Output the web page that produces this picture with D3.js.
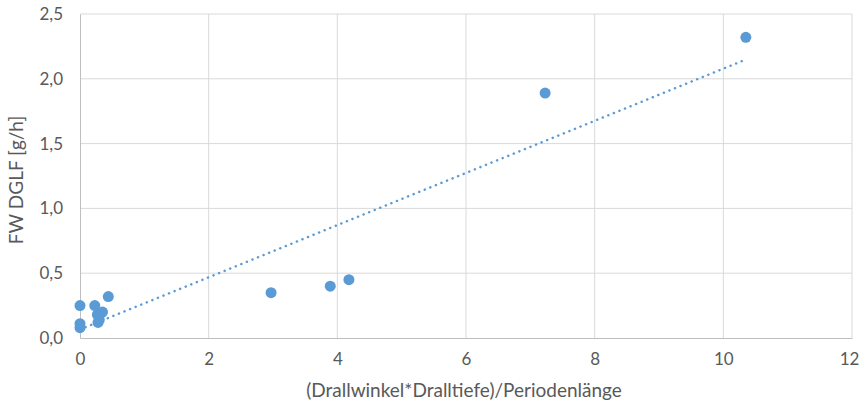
<!DOCTYPE html>
<html>
<head>
<meta charset="utf-8">
<script src="https://cdn.jsdelivr.net/npm/d3@7"></script>
<style>
  body { margin: 0; background: #fff; overflow: hidden; }
  svg { font-family: Lato, "Open Sans", sans-serif; display: block; }
  .axis-title { fill: #595959; font-size: 19px; }
</style>
</head>
<body>
<svg id="chart" width="861" height="403"></svg>
<script>
// measured values
const xValues = [0, 0, 0, 0.23, 0.44, 0.27, 0.35, 0.30, 0.28, 2.97, 3.89, 4.18, 7.23, 10.35];
const yValues = [0.25, 0.11, 0.08, 0.25, 0.32, 0.18, 0.20, 0.14, 0.12, 0.35, 0.40, 0.45, 1.89, 2.32];
const xTicks = [0, 2, 4, 6, 8, 10, 12];
const yTicks = [0, 0.5, 1.0, 1.5, 2.0, 2.5];

function drawChart() {
    const svg = d3.select("#chart");
    const plotLeft = 80, plotRight = 852, plotTop = 14, plotBottom = 338;
    const color = "#5B9BD5";

    const xScale = d3.scaleLinear().domain([0, 12]).range([plotLeft, plotRight]);
    const yScale = d3.scaleLinear().domain([0, 2.5]).range([plotBottom, plotTop]);
    const fmt = function (d) { return d3.format(".1f")(d).replace(".", ","); };

    // gridlines
    svg.append("g")
        .selectAll("line")
        .data(xTicks.slice(1))
        .join("line")
        .attr("x1", d => xScale(d)).attr("x2", d => xScale(d))
        .attr("y1", plotTop).attr("y2", plotBottom)
        .attr("stroke", "#D9D9D9").attr("stroke-width", 1);
    svg.append("g")
        .selectAll("line")
        .data(yTicks.slice(1))
        .join("line")
        .attr("x1", plotLeft).attr("x2", plotRight)
        .attr("y1", d => yScale(d)).attr("y2", d => yScale(d))
        .attr("stroke", "#D9D9D9").attr("stroke-width", 1);

    // axes
    const xAxis = svg.append("g")
        .attr("transform", `translate(0, ${plotBottom})`)
        .call(d3.axisBottom(xScale).tickValues(xTicks).tickSize(0).tickPadding(15));
    xAxis.select(".domain").attr("stroke", "#BFBFBF");
    // keep the last label inside the window
    xAxis.selectAll(".tick text").filter(d => d === 12).attr("dx", "-3");

    const yAxis = svg.append("g")
        .attr("transform", `translate(${plotLeft}, 0)`)
        .call(d3.axisLeft(yScale).tickValues(yTicks).tickFormat(fmt).tickSize(0).tickPadding(17));
    yAxis.select(".domain").attr("stroke", "#BFBFBF");

    svg.selectAll(".tick text")
        .attr("fill", "#595959")
        .style("font-size", "17px")
        .style("font-family", "Lato, 'Open Sans', sans-serif");

    // titles
    svg.append("text")
        .attr("class", "axis-title")
        .attr("text-anchor", "middle")
        .attr("transform", `translate(${(plotLeft + plotRight) / 2 - 2}, 397)`)
        .text("(Drallwinkel*Dralltiefe)/Periodenlänge");
    svg.append("text")
        .attr("class", "axis-title")
        .attr("text-anchor", "middle")
        .attr("transform", `translate(23, 180) rotate(270)`)
        .text("FW DGLF [g/h]");

    // linear trend line (least squares)
    const n = xValues.length;
    const mx = d3.mean(xValues), my = d3.mean(yValues);
    let sxy = 0, sxx = 0;
    for (let i = 0; i < n; i++) {
        sxy += (xValues[i] - mx) * (yValues[i] - my);
        sxx += (xValues[i] - mx) * (xValues[i] - mx);
    }
    const slope = sxy / sxx;
    const intercept = my - slope * mx;
    const x0 = d3.min(xValues), x1 = d3.max(xValues);
    svg.append("line")
        .attr("x1", xScale(x0)).attr("y1", yScale(intercept + slope * x0))
        .attr("x2", xScale(x1)).attr("y2", yScale(intercept + slope * x1))
        .attr("stroke", color)
        .attr("stroke-width", 2.5)
        .attr("stroke-linecap", "round")
        .attr("stroke-dasharray", "0.1 5.9");

    // points
    svg.append("g")
        .selectAll("circle")
        .data(xValues.map((x, i) => ({ x: x, y: yValues[i] })))
        .join("circle")
        .attr("cx", d => xScale(d.x))
        .attr("cy", d => yScale(d.y))
        .attr("r", 5.5)
        .attr("fill", color);
}

drawChart();
</script>
</body>
</html>
